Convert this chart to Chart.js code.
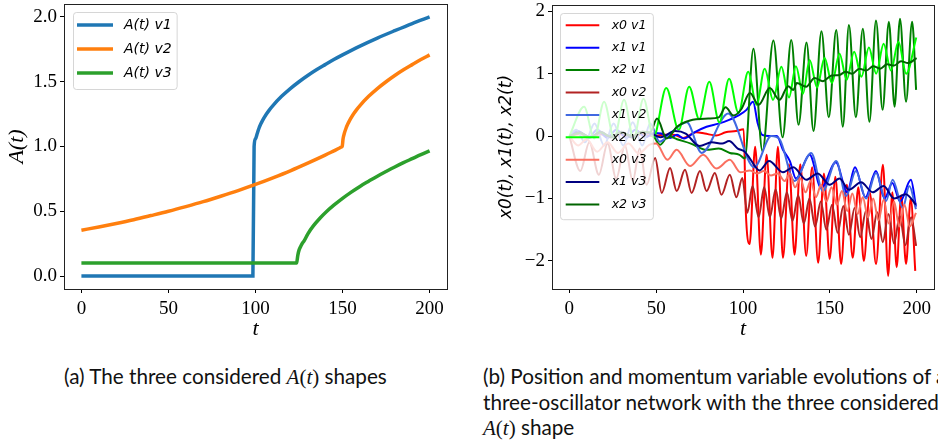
<!DOCTYPE html>
<html>
<head>
<meta charset="utf-8">
<script src="https://cdn.jsdelivr.net/npm/chart.js@4"></script>
<style>
  html, body { margin: 0; padding: 0; background: #fff; }
  body { width: 938px; height: 445px; position: relative; overflow: hidden; }
  #left { position: absolute; left: 0; top: 0; }
  #right { position: absolute; left: 470px; top: 0; }
  .cap { position: absolute; font-family: Lato, "Open Sans", sans-serif; font-size: 20.7px; line-height: 25.5px; color: #111; white-space: nowrap; }
  .m { font-family: "Liberation Serif", serif; font-style: italic; font-size: 21px; }
  .p { font-family: "Liberation Serif", serif; font-size: 21px; }
</style>
</head>
<body>
<canvas id="left" width="470" height="340"></canvas>
<canvas id="right" width="468" height="340"></canvas>
<div class="cap" style="left:64px;top:364px">(a) The three considered <span class="m">A</span><span class="p">(</span><span class="m">t</span><span class="p">)</span> shapes</div>
<div class="cap" style="left:483px;top:364px">(b) Position and momentum variable evolutions of a<br>three-oscillator network with the three considered<br><span class="m">A</span><span class="p">(</span><span class="m">t</span><span class="p">)</span> shape</div>
<script>
'use strict';

// tick values
const tickT = [0, 50, 100, 150, 200];
const tickA = [0, 0.5, 1.0, 1.5, 2.0];
const tickX = [-2, -1, 0, 1, 2];

// (a) A(t) shapes, [t, A]
const aV1 = [[0,0],[98.5,0],[99.2,1.0],[100,1.06],[101,1.1],[102,1.141],[103,1.173],[104,1.2],[106,1.245],[108,1.283],[110,1.316],[115,1.387],[120,1.447],[125,1.5],[130,1.548],[135,1.592],[140,1.632],[145,1.671],[150,1.707],[160,1.775],[170,1.837],[180,1.894],[190,1.949],[200,2.0]];
const aV2 = [[0,0.354],[10,0.379],[20,0.406],[30,0.435],[40,0.467],[50,0.5],[60,0.536],[70,0.574],[80,0.616],[90,0.66],[100,0.707],[110,0.758],[120,0.812],[130,0.871],[140,0.933],[145,0.966],[148,0.986],[149.2,0.995],[149.8,1.0],[150.3,1.06],[151,1.1],[152,1.141],[153,1.173],[154,1.2],[156,1.245],[158,1.283],[160,1.316],[165,1.387],[170,1.447],[175,1.5],[180,1.548],[185,1.592],[190,1.632],[195,1.671],[200,1.707]];
const aV3 = [[0,0.1],[123.6,0.1],[124.3,0.16],[125,0.2],[126,0.23],[127,0.255],[128,0.273],[130,0.324],[133,0.383],[137,0.446],[141,0.5],[145,0.547],[150,0.6],[155,0.648],[160,0.692],[165,0.732],[170,0.771],[175,0.807],[180,0.842],[185,0.875],[190,0.906],[195,0.937],[200,0.966]];
const leftLabels = ['A(t) v1', 'A(t) v2', 'A(t) v3'];
const leftColors = ['#1f77b4', '#ff7f0e', '#2ca02c'];

// (b) oscillator variables, [t, value]
const x0v1 = [[0,0],[6,0.03],[12,-0.02],[18,0.03],[24,-0.02],[30,0.03],[36,-0.02],[42,0.03],[48,0],[54,0.02],[60,0.02],[65.6,-0.03],[73,0.06],[78,0.04],[84.5,0.01],[90,0.06],[96,0.08],[100.4,0.11],[101.6,-1.2],[103.8,-1.73],[107,-0.17],[110.3,-1.9],[113.6,-0.3],[117,-1.95],[120.1,-0.17],[123,-1.95],[126.5,-0.45],[129.7,-1.9],[133,-0.45],[136.4,-1.92],[139.8,-0.5],[143.3,-2.03],[146.6,-0.6],[149.9,-1.97],[153.2,-0.65],[156.5,-2.05],[159.8,-0.78],[163.2,-1.95],[166.4,-0.82],[169.6,-2.0],[173,-0.9],[176.6,-2.05],[180.6,-0.46],[183.6,-2.24],[186,-0.9],[188.5,-2.1],[191.1,-0.95],[193.9,-2.05],[196.6,-1.0],[199.2,-2.16]];
const x1v1 = [[0,0],[5,0.08],[11,-0.03],[16,0.1],[22,-0.03],[27,0.1],[33,-0.03],[38,0.1],[44,-0.02],[48.5,0.05],[53,0.04],[58,-0.03],[62,0.02],[66,-0.04],[72,0.06],[79,0.15],[86,0.2],[92,0.26],[98,0.34],[102,0.42],[105.8,0.55],[108.5,0.2],[111,0.02],[115,0],[119.5,0],[123,-0.22],[127,-0.4],[130.5,-0.68],[138.4,-0.3],[145,-0.83],[153.5,-0.42],[160,-0.9],[164.5,-0.5],[170.5,-0.98],[176.6,-0.56],[181.5,-1.0],[186,-0.75],[190.5,-1.05],[196.7,-0.7],[199.6,-1.13]];
const x2v1 = [[0,0],[6,0.05],[12,-0.02],[18,0.06],[24,-0.02],[30,0.06],[36,-0.02],[42,0.06],[48,0.02],[52.2,-0.14],[57,0],[62,-0.05],[70,-0.12],[79,-0.22],[86,-0.2],[92.4,-0.27],[98,-0.3],[101,-0.36],[106,1.4],[111.2,-0.24],[117.5,1.53],[122.8,-0.02],[127.8,1.54],[132,0.18],[136.6,1.5],[140.6,0.08],[145.2,1.68],[149.4,0.3],[153.7,1.7],[157.5,0.15],[161,1.78],[165,0.3],[169,1.72],[172.8,0.23],[176.6,1.85],[180.4,0.42],[184,1.83],[187.3,0.47],[190.4,1.88],[193.9,0.55],[197.4,1.83],[199.7,0.74]];
const x0v2 = [[0,0],[6.3,-0.56],[11.5,-0.1],[17,-0.62],[22,-0.12],[27,-0.68],[32,-0.15],[36.5,-0.72],[40.5,-0.2],[44.5,-0.78],[49.4,-0.35],[53.2,-0.91],[58,-0.51],[61.8,-0.88],[66.6,-0.54],[70.4,-0.91],[75.2,-0.56],[79,-0.88],[83.8,-0.59],[87.6,-0.94],[92.4,-0.62],[96.2,-0.98],[99.6,-0.67],[102.5,-1.23],[105.5,-0.8],[109,-1.3],[112.2,-0.82],[115.5,-1.3],[118.8,-0.85],[122,-1.32],[125.3,-0.9],[128.5,-1.36],[131.8,-0.95],[135,-1.4],[138.3,-1.0],[141.5,-1.45],[144.8,-1.05],[148,-1.5],[151.3,-1.1],[154.5,-1.55],[157.8,-1.12],[161,-1.58],[164.3,-1.15],[167.5,-1.62],[170.8,-1.2],[174,-1.65],[177.3,-1.22],[180.5,-1.7],[183.8,-1.25],[187,-1.72],[190.3,-1.28],[193.5,-1.75],[196.8,-1.3],[199.7,-1.76]];
const x1v2 = [[0,0],[4,0.1],[9,-0.1],[14.5,0.2],[20,-0.15],[25.5,0.2],[31,-0.15],[36.5,0.22],[42,-0.15],[46.5,0.2],[52,-0.09],[58,0.04],[67.6,0.22],[76.2,-0.27],[91.5,0.36],[106.5,-0.5],[116.3,0],[121,-0.05],[129.7,-0.72],[139.3,-0.27],[146,-0.88],[153.7,-0.4],[159.4,-0.96],[165,-0.56],[170.9,-1.0],[176.6,-0.59],[182.4,-1.04],[186.2,-0.7],[192,-1.15],[195.8,-0.8],[199.6,-1.17]];
const x2v2 = [[0,0],[8.5,0.47],[14.3,-0.04],[20,0.55],[25.8,-0.04],[31.5,0.58],[37,-0.04],[42.7,0.6],[48.5,-0.02],[55.8,0.77],[63,0.1],[69,0.79],[74.8,0.27],[80.6,0.87],[86.4,0.22],[92,0.92],[97.4,0.37],[103,1.03],[107.8,0.5],[112.5,1.08],[117.3,0.58],[122.1,1.11],[126.5,0.62],[130.5,1.12],[134.5,0.68],[138.4,1.22],[142.6,0.78],[147,1.25],[151.2,0.85],[155.6,1.32],[159.7,0.9],[164,1.35],[168.2,0.95],[172.5,1.42],[176.7,1.0],[181,1.48],[185.2,1.05],[189.5,1.51],[194,1.0],[199.8,1.58]];
const x0v3 = [[0,0],[5,-0.15],[10,-0.05],[16,-0.25],[22,-0.1],[28,-0.27],[34,-0.12],[40,-0.28],[46,-0.14],[50,-0.12],[56.5,-0.38],[61.8,-0.22],[69.5,-0.48],[77.1,-0.3],[84.7,-0.52],[92.4,-0.38],[98.5,-0.58],[104,-0.55],[108,-0.6],[112,-0.56],[116,-0.63],[120,-0.6],[124,-0.72],[127,-0.6],[130,-0.82],[133,-0.68],[136,-0.9],[139,-0.72],[142,-0.98],[145,-0.78],[148,-1.05],[151,-0.82],[154,-1.1],[157,-0.88],[160,-1.2],[163,-0.92],[166,-1.25],[169,-0.98],[172,-1.3],[175,-1.0],[178,-1.35],[181,-1.02],[184,-1.4],[187,-1.05],[190,-1.45],[193,-1.1],[196,-1.45],[199.6,-1.23]];
const x1v3 = [[0,0],[6,0.06],[12,-0.02],[18,0.07],[24,-0.02],[30,0.07],[36,-0.02],[42,0.07],[48,0.03],[52.5,-0.02],[61,0.08],[67,0.04],[75,-0.16],[82,-0.1],[88,-0.12],[92,-0.08],[97,-0.2],[101,-0.25],[104,-0.36],[109.5,-0.55],[115,-0.4],[123,-0.58],[129,-0.5],[136.4,-0.7],[143,-0.6],[150,-0.78],[155.6,-0.68],[161,-0.86],[168,-0.74],[174.7,-0.9],[181,-0.8],[187,-1.0],[193.8,-0.93],[199.6,-1.1]];
const x2v3 = [[0,0],[6,0.05],[12,-0.02],[18,0.06],[24,-0.01],[30,0.06],[36,0],[42,0.07],[46.5,0.06],[50.5,0.28],[56,-0.04],[62,0.15],[69.5,0.25],[80,0.28],[86,0.3],[90,0.46],[94.5,0.33],[99,0.43],[104,0.69],[109,0.5],[115.4,0.77],[121,0.58],[126,0.8],[129,0.74],[131,0.85],[136.4,0.79],[141.2,0.93],[146,0.88],[151,0.97],[155.6,0.98],[159,1.03],[163,1.0],[167,1.08],[171,1.05],[175,1.12],[179,1.08],[183,1.15],[187,1.13],[191,1.2],[195,1.17],[200,1.25]];
const rightSeries = [x0v1, x1v1, x2v1, x0v2, x1v2, x2v2, x0v3, x1v3, x2v3];
const rightLabels = ['x0 v1', 'x1 v1', 'x2 v1', 'x0 v2', 'x1 v2', 'x2 v2', 'x0 v3', 'x1 v3', 'x2 v3'];
const rightColors = ['#ff0000', '#0000ff', '#008000', '#b22222', '#4169e1', '#00ff00', '#fa7060', '#000080', '#006400'];

const serif = '"Liberation Serif", serif';

// full box round the plot, like matplotlib spines
const framePlugin = {
  id: 'frame',
  afterDatasetsDraw(chart) {
    const {ctx, chartArea: a} = chart;
    ctx.save();
    ctx.strokeStyle = '#222';
    ctx.lineWidth = 1;
    ctx.strokeRect(Math.round(a.left) + 0.5, Math.round(a.top) + 0.5, Math.round(a.right - a.left), Math.round(a.bottom - a.top));
    ctx.restore();
  }
};

// legend inside the axes, semi transparent box
const boxLegend = {
  id: 'boxLegend',
  afterDatasetsDraw(chart, args, o) {
    const {ctx, chartArea: a} = chart;
    const sets = chart.data.datasets;
    ctx.save();
    ctx.font = o.font;
    const textW = Math.max(...sets.map(d => ctx.measureText(d.label).width));
    const x0 = a.left + o.insetX, y0 = a.top + o.insetY;
    const w = o.pad + o.handle + o.gap + textW + o.padRight;
    const h = o.first + o.row * (sets.length - 1) + o.last;
    ctx.beginPath();
    ctx.roundRect(Math.round(x0) + 0.5, Math.round(y0) + 0.5, w, h, 3);
    ctx.fillStyle = 'rgba(255,255,255,0.8)';
    ctx.fill();
    ctx.strokeStyle = 'rgba(204,204,204,0.8)';
    ctx.lineWidth = 1;
    ctx.stroke();
    sets.forEach((d, i) => {
      const y = y0 + o.first + i * o.row;
      ctx.strokeStyle = d.borderColor;
      ctx.lineWidth = d.borderWidth;
      ctx.beginPath();
      ctx.moveTo(x0 + o.pad, y);
      ctx.lineTo(x0 + o.pad + o.handle, y);
      ctx.stroke();
      ctx.fillStyle = '#000';
      ctx.textAlign = 'left';
      ctx.textBaseline = 'middle';
      ctx.fillText(d.label, x0 + o.pad + o.handle + o.gap, y);
    });
    ctx.restore();
  }
};

function toXY(pairs) {
  return pairs.map(p => ({x: p[0], y: p[1]}));
}

function noPad(s) {
  s.paddingLeft = 0; s.paddingRight = 0; s.paddingTop = 0; s.paddingBottom = 0;
}

function xScale(height) {
  return {
    type: 'linear', min: -10, max: 210,
    afterBuildTicks: s => { s.ticks = tickT.map(v => ({value: v})); },
    afterFit: s => { s.height = height; noPad(s); },
    grid: {drawOnChartArea: false, drawTicks: true, tickLength: 4, color: '#000'},
    border: {display: false},
    ticks: {font: {family: serif, size: 19}, color: '#000', padding: 5, maxRotation: 0, autoSkip: false},
    title: {display: true, text: 't', color: '#000', padding: 0,
      font: {family: serif, size: 22, style: 'italic', lineHeight: 1}}
  };
}

const common = {
  animation: false,
  responsive: false,
  devicePixelRatio: 1,
  events: []
};

// left chart
const leftSets = [aV1, aV2, aV3].map((d, i) => ({
  label: leftLabels[i],
  data: toXY(d),
  borderColor: leftColors[i],
  backgroundColor: leftColors[i],
  borderWidth: 3.5,
  pointRadius: 0,
  fill: false,
  cubicInterpolationMode: 'monotone',
  order: 10 - i
}));

new Chart(document.getElementById('left'), {
  type: 'line',
  data: {datasets: leftSets},
  options: Object.assign({}, common, {
    layout: {padding: {left: 0, top: 4, right: 23, bottom: 0}},
    scales: {
      x: xScale(51),
      y: {
        type: 'linear', min: -0.1, max: 2.1,
        afterBuildTicks: s => { s.ticks = tickA.map(v => ({value: v})); },
        afterFit: s => { s.width = 64; noPad(s); },
        grid: {drawOnChartArea: false, drawTicks: true, tickLength: 4, color: '#000'},
        border: {display: false},
        ticks: {font: {family: serif, size: 19}, color: '#000', padding: 3,
          callback: v => v.toFixed(1)},
        title: {display: true, text: 'A(t)', color: '#000', padding: {top: 4, bottom: 0},
          font: {family: serif, size: 22, style: 'italic', lineHeight: 1.2}}
      }
    },
    plugins: {
      legend: {display: false},
      tooltip: {enabled: false},
      boxLegend: {font: 'italic 14px "DejaVu Sans"', insetX: 9, insetY: 8, pad: 4, handle: 36, gap: 11,
        padRight: 5, first: 13, row: 24, last: 16}
    }
  }),
  plugins: [framePlugin, boxLegend]
});

// right chart
const rightSets = rightSeries.map((d, i) => ({
  label: rightLabels[i],
  data: toXY(d),
  borderColor: rightColors[i],
  backgroundColor: rightColors[i],
  borderWidth: 2,
  pointRadius: 0,
  fill: false,
  cubicInterpolationMode: 'monotone',
  order: 20 - i
}));

new Chart(document.getElementById('right'), {
  type: 'line',
  data: {datasets: rightSets},
  options: Object.assign({}, common, {
    layout: {padding: {left: 0, top: 5, right: 4, bottom: 0}},
    scales: {
      x: xScale(51),
      y: {
        type: 'linear', min: -2.45, max: 2.1,
        afterBuildTicks: s => { s.ticks = tickX.map(v => ({value: v})); },
        afterFit: s => { s.width = 82; noPad(s); },
        grid: {drawOnChartArea: false, drawTicks: true, tickLength: 4, color: '#000'},
        border: {display: false},
        ticks: {font: {family: serif, size: 19}, color: '#000', padding: 3,
          callback: v => String(v).replace('-', '\u2212')},
        title: {display: true, text: 'x0(t), x1(t), x2(t)', color: '#000', padding: {top: 26, bottom: 0},
          font: {family: '"DejaVu Sans", sans-serif', size: 17, style: 'italic', lineHeight: 1.2}}
      }
    },
    plugins: {
      legend: {display: false},
      tooltip: {enabled: false},
      boxLegend: {font: 'italic 12.5px "DejaVu Sans"', insetX: 8, insetY: 8, pad: 5.7, handle: 33.6, gap: 12.4,
        padRight: 6.5, first: 12.3, row: 22.4, last: 14.7}
    }
  }),
  plugins: [framePlugin, boxLegend]
});
</script>
</body>
</html>
